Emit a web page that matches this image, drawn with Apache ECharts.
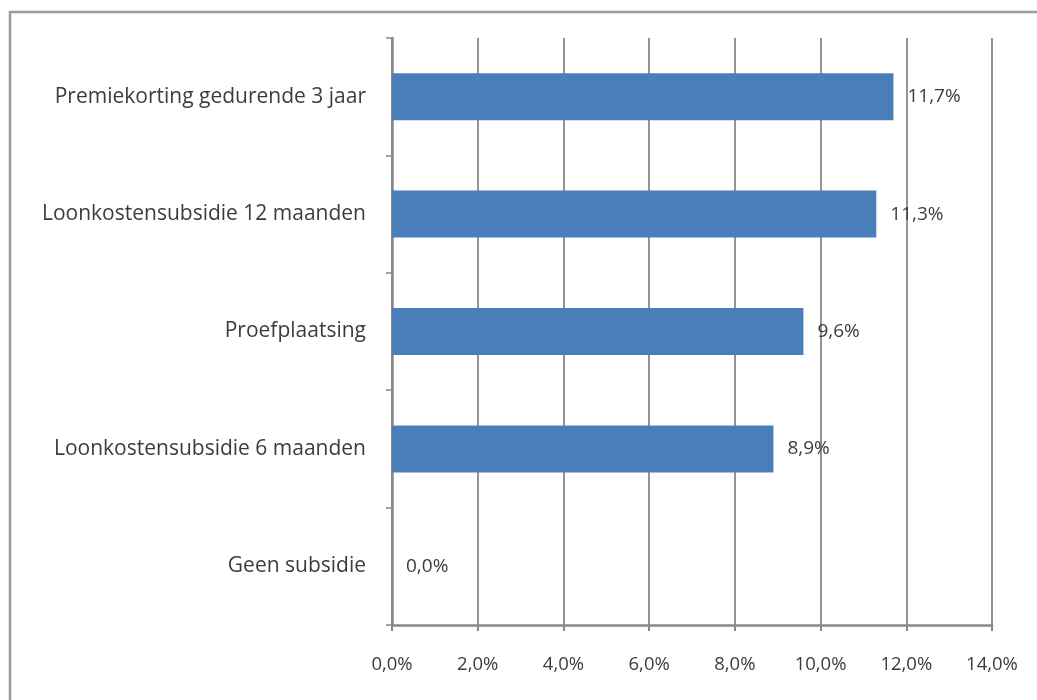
<!DOCTYPE html>
<html>
<head>
<meta charset="utf-8">
<script src="https://cdn.jsdelivr.net/npm/echarts@6/dist/echarts.min.js"></script>
<style>
html,body{margin:0;padding:0;background:#fff;}
#chart{width:1037px;height:700px;}
</style>
</head>
<body>
<div id="chart"></div>
<script>
// Categories listed top to bottom
var categories = [
  'Premiekorting gedurende 3 jaar',
  'Loonkostensubsidie 12 maanden',
  'Proefplaatsing',
  'Loonkostensubsidie 6 maanden',
  'Geen subsidie'
];
var values = [11.7, 11.3, 9.6, 8.9, 0.0];
var xTicks = { min: 0, max: 14, interval: 2 };

function pct(v) { return Number(v).toFixed(1).replace('.', ',') + '%'; }

var chart = echarts.init(document.getElementById('chart'));
var font = 'Open Sans';
chart.setOption({
  backgroundColor: '#ffffff',
  animation: false,
  graphic: [{
    type: 'rect',
    shape: { x: 10, y: 12, width: 1200, height: 900 },
    style: { fill: 'none', stroke: '#9c9c9c', lineWidth: 2.5 },
    silent: true
  }],
  grid: { left: 392, right: 45, top: 38, bottom: 75 },
  xAxis: {
    type: 'value',
    min: xTicks.min, max: xTicks.max, interval: xTicks.interval,
    axisLine: { show: true, lineStyle: { color: '#888888', width: 2.5 } },
    axisTick: { show: true, length: 6, lineStyle: { color: '#888888', width: 2 } },
    splitLine: { show: true, lineStyle: { color: '#888888', width: 1.8 } },
    axisLabel: {
      formatter: pct, color: '#3c3c3c', fontFamily: font, fontSize: 18.5, margin: 30
    }
  },
  yAxis: {
    type: 'category',
    inverse: true,
    data: categories,
    axisLine: { show: true, lineStyle: { color: '#888888', width: 2.5 } },
    axisTick: { show: true, length: 6, lineStyle: { color: '#888888', width: 1.5 } },
    axisLabel: { color: '#3c3c3c', fontFamily: font, fontSize: 21, margin: 26 }
  },
  series: [{
    type: 'bar',
    data: values,
    barCategoryGap: '60%',
    itemStyle: { color: '#4a7ebb' },
    label: {
      show: true, position: 'right', distance: 14,
      formatter: function (p) { return pct(p.value); },
      color: '#3c3c3c', fontFamily: font, fontSize: 19
    }
  }]
});
</script>
</body>
</html>
